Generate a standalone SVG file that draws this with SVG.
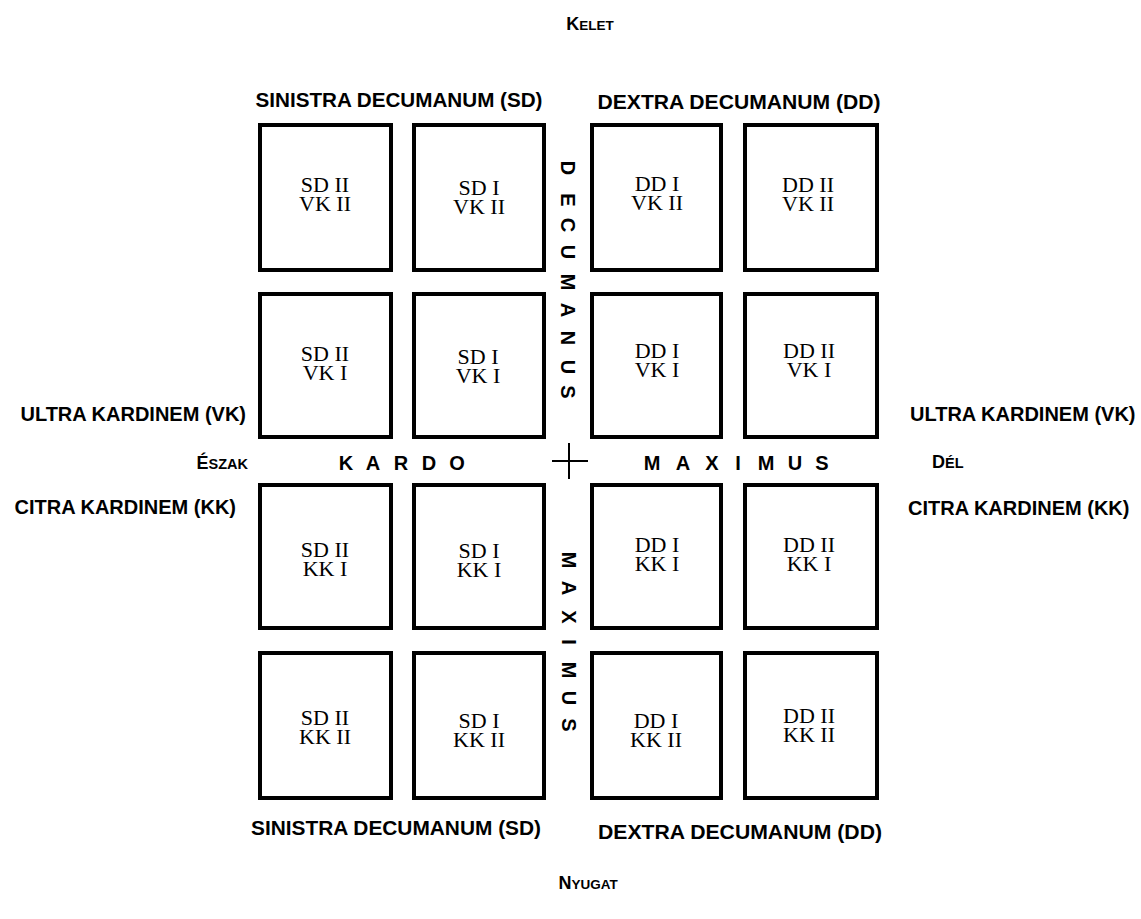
<svg xmlns="http://www.w3.org/2000/svg" width="1141" height="919" viewBox="0 0 1141 919">
<style>
.box{fill:#fff;stroke:#000;stroke-width:4}
.bt{font-family:"Liberation Serif","Times New Roman",serif;font-size:22px;fill:#000;text-anchor:middle}
.lab{font-family:"Liberation Sans",Arial,sans-serif;font-weight:bold;font-size:20px;fill:#000}
.road{font-family:"Liberation Sans",Arial,sans-serif;font-weight:bold;font-size:20px;fill:#000;text-anchor:middle}
.sc{font-family:"Liberation Sans",Arial,sans-serif;font-weight:bold;font-size:18px;fill:#000}
.sm{font-size:13.5px}
</style>
<rect width="1141" height="919" fill="#fff"/>
<g id="compass">
<text class="sc" x="590" y="30" text-anchor="middle">K<tspan class="sm">ELET</tspan></text>
<text class="sc" x="588" y="889" text-anchor="middle">N<tspan class="sm">YUGAT</tspan></text>
<text class="sc" x="248" y="469" text-anchor="end">É<tspan class="sm" style="font-size:14.5px">SZAK</tspan></text>
<text class="sc" x="932" y="468">D<tspan class="sm" style="font-size:14.5px">ÉL</tspan></text>
</g>
<g id="labels">
<text class="lab" x="399" y="107" text-anchor="middle" textLength="287" lengthAdjust="spacingAndGlyphs">SINISTRA DECUMANUM (SD)</text>
<text class="lab" x="739" y="109" text-anchor="middle" textLength="283" lengthAdjust="spacingAndGlyphs">DEXTRA DECUMANUM (DD)</text>
<text class="lab" x="396" y="835" text-anchor="middle" textLength="290" lengthAdjust="spacingAndGlyphs">SINISTRA DECUMANUM (SD)</text>
<text class="lab" x="740" y="839" text-anchor="middle" textLength="284" lengthAdjust="spacingAndGlyphs">DEXTRA DECUMANUM (DD)</text>
<text class="lab" x="246" y="421" text-anchor="end">ULTRA KARDINEM (VK)</text>
<text class="lab" x="236" y="514" text-anchor="end">CITRA KARDINEM (KK)</text>
<text class="lab" x="910" y="421">ULTRA KARDINEM (VK)</text>
<text class="lab" x="908" y="515">CITRA KARDINEM (KK)</text>
</g>
<g id="roads">
<text class="road" y="470" x="346 373 401 429 457">KARDO</text>
<text class="road" y="470" x="652 683 712 738 766 795 822">MAXIMUS</text>
<text class="road" transform="translate(561,0) rotate(90)" y="0" x="168 200 225 252 282 310 338 367 392">DECUMANUS</text>
<text class="road" transform="translate(562,0) rotate(90)" y="0" x="560 588 617 642 670 698 725">MAXIMUS</text>
</g>
<g id="cross">
<path d="M552 461H588M569 443V479" stroke="#000" stroke-width="2" fill="none"/>
</g>
<g id="SD-II-VK-II"><rect class="box" x="260" y="125" width="131" height="145"/><text class="bt" x="325" y="192">SD II</text><text class="bt" x="325" y="211">VK II</text></g>
<g id="SD-I-VK-II"><rect class="box" x="414" y="125" width="130" height="145"/><text class="bt" x="479" y="195">SD I</text><text class="bt" x="479" y="214">VK II</text></g>
<g id="DD-I-VK-II"><rect class="box" x="592" y="125" width="129" height="145"/><text class="bt" x="657" y="191">DD I</text><text class="bt" x="657" y="210">VK II</text></g>
<g id="DD-II-VK-II"><rect class="box" x="745" y="125" width="132" height="145"/><text class="bt" x="808" y="192">DD II</text><text class="bt" x="808" y="211">VK II</text></g>
<g id="SD-II-VK-I"><rect class="box" x="260" y="294" width="131" height="143"/><text class="bt" x="325" y="361">SD II</text><text class="bt" x="325" y="380">VK I</text></g>
<g id="SD-I-VK-I"><rect class="box" x="414" y="294" width="130" height="143"/><text class="bt" x="478" y="364">SD I</text><text class="bt" x="478" y="383">VK I</text></g>
<g id="DD-I-VK-I"><rect class="box" x="592" y="294" width="129" height="143"/><text class="bt" x="657" y="358">DD I</text><text class="bt" x="657" y="377">VK I</text></g>
<g id="DD-II-VK-I"><rect class="box" x="745" y="294" width="132" height="143"/><text class="bt" x="809" y="358">DD II</text><text class="bt" x="809" y="377">VK I</text></g>
<g id="SD-II-KK-I"><rect class="box" x="260" y="485" width="131" height="143"/><text class="bt" x="325" y="557">SD II</text><text class="bt" x="325" y="576">KK I</text></g>
<g id="SD-I-KK-I"><rect class="box" x="414" y="485" width="130" height="143"/><text class="bt" x="479" y="558">SD I</text><text class="bt" x="479" y="577">KK I</text></g>
<g id="DD-I-KK-I"><rect class="box" x="592" y="485" width="129" height="143"/><text class="bt" x="657" y="552">DD I</text><text class="bt" x="657" y="571">KK I</text></g>
<g id="DD-II-KK-I"><rect class="box" x="745" y="485" width="132" height="143"/><text class="bt" x="809" y="552">DD II</text><text class="bt" x="809" y="571">KK I</text></g>
<g id="SD-II-KK-II"><rect class="box" x="260" y="653" width="131" height="145"/><text class="bt" x="325" y="725">SD II</text><text class="bt" x="325" y="744">KK II</text></g>
<g id="SD-I-KK-II"><rect class="box" x="414" y="653" width="130" height="145"/><text class="bt" x="479" y="728">SD I</text><text class="bt" x="479" y="747">KK II</text></g>
<g id="DD-I-KK-II"><rect class="box" x="592" y="653" width="129" height="145"/><text class="bt" x="656" y="728">DD I</text><text class="bt" x="656" y="747">KK II</text></g>
<g id="DD-II-KK-II"><rect class="box" x="745" y="653" width="132" height="145"/><text class="bt" x="809" y="723">DD II</text><text class="bt" x="809" y="742">KK II</text></g>
</svg>
